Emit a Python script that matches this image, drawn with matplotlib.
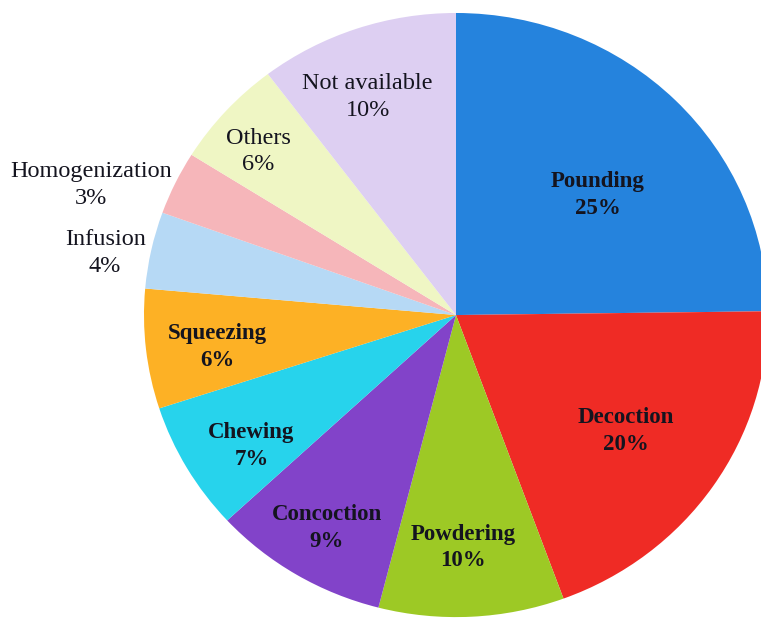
import numpy as np
import matplotlib.pyplot as plt

# shares (label text shows the rounded value)
methods = ['Pounding', 'Decoction', 'Powdering', 'Concoction', 'Chewing',
           'Squeezing', 'Infusion', 'Homogenization', 'Others', 'Not available']
shares = [24.8, 19.6, 9.6, 9.1, 6.9, 6.4, 4.1, 3.4, 5.8, 10.3]
colors = ['#2583dd', '#ef2b25', '#9dc925', '#8243c9', '#27d3ec',
          '#fdb125', '#b6d9f5', '#f6b6ba', '#eff6c4', '#ddcff2']

# label placement: fraction of radius, nudge from mid-angle (deg), weight
label_r = [0.61, 0.66, 0.76, 0.81, 0.78, 0.77, 1.145, 1.25, 0.84, 0.785]
label_dang = [-3.4, 0, -1.2, 0, 2.4, 0.6, 1.6, 5.3, 1.4, 2.6]
bold = [True, True, True, True, True, True, False, False, False, False]

fig = plt.figure(figsize=(7.61, 6.18), dpi=100)
ax = fig.add_axes([0, 0, 1, 1])

wedges, _ = ax.pie(shares, colors=colors, startangle=90, counterclock=False,
                   wedgeprops=dict(linewidth=0))

for w, name, val, r, da, b in zip(wedges, methods, shares, label_r, label_dang, bold):
    mid = np.deg2rad((w.theta1 + w.theta2) / 2 + da)
    ax.text(r * np.cos(mid), r * np.sin(mid) - 0.01, f"{name}\n{val:.0f}%",
            ha='center', va='center', fontsize=16.5 if b else 17.5,
            linespacing=1.35, family='Liberation Serif',
            fontweight='bold' if b else 'normal', color='#14141f')

# picture is a little wider than tall and cropped on the right
ax.set_aspect('auto')
ax.set_xlim(-1.4615, 0.9776)
ax.set_ylim(-1.003, 1.043)
ax.axis('off')

fig.savefig('out.png', dpi=100)
